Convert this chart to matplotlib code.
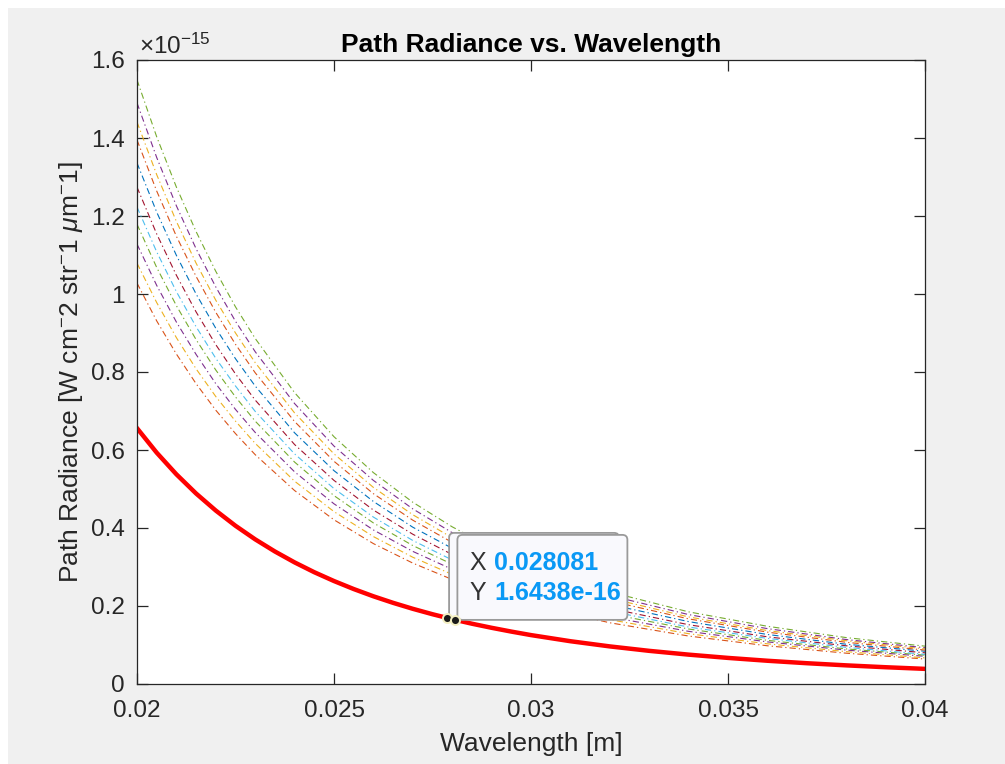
import matplotlib
matplotlib.use('Agg')
import matplotlib.pyplot as plt
import matplotlib.transforms as mtransforms
from matplotlib.patches import FancyBboxPatch, Rectangle
from matplotlib.ticker import FuncFormatter
import numpy as np

# values, radiance in units of 1e-15
red_wavelength = [0.0200, 0.0205, 0.0210, 0.0215, 0.0220, 0.0225, 0.0230, 0.0235, 0.0240, 0.0245,
                  0.0250, 0.0255, 0.0260, 0.0265, 0.0270, 0.0275, 0.0280, 0.0285, 0.0290, 0.0295,
                  0.0300, 0.0310, 0.0320, 0.0330, 0.0340, 0.0350, 0.0360, 0.0370, 0.0380, 0.0390, 0.0400]
red_radiance = [0.656, 0.5931, 0.5376, 0.4884, 0.4447, 0.4057, 0.3709, 0.3398, 0.3118, 0.2866,
                0.2640, 0.2435, 0.2249, 0.2081, 0.1928, 0.1789, 0.1662, 0.1546, 0.1441, 0.1344,
                0.1254, 0.1097, 0.0964, 0.0850, 0.0753, 0.0669, 0.0596, 0.0533, 0.0478, 0.0430, 0.0388]

wavelength = [0.0200, 0.0205, 0.0210, 0.0215, 0.0220, 0.0225, 0.0230, 0.0240, 0.0250,
              0.0260, 0.0270, 0.0280, 0.0290, 0.0300, 0.0320, 0.0340, 0.0360, 0.0380, 0.0400]

# dashed curves, lowest first
dashed_radiance = [
    [1.028, 0.931, 0.846, 0.770, 0.702, 0.642, 0.588, 0.496, 0.421, 0.360, 0.310, 0.268, 0.233, 0.203, 0.157, 0.123, 0.098, 0.079, 0.064],
    [1.079, 0.978, 0.888, 0.808, 0.737, 0.674, 0.617, 0.520, 0.442, 0.378, 0.325, 0.281, 0.244, 0.213, 0.165, 0.129, 0.103, 0.083, 0.067],
    [1.128, 1.022, 0.928, 0.845, 0.770, 0.704, 0.645, 0.544, 0.462, 0.395, 0.340, 0.294, 0.255, 0.223, 0.172, 0.135, 0.108, 0.087, 0.071],
    [1.179, 1.068, 0.970, 0.883, 0.805, 0.736, 0.674, 0.569, 0.483, 0.413, 0.355, 0.307, 0.267, 0.233, 0.180, 0.141, 0.112, 0.090, 0.074],
    [1.223, 1.108, 1.006, 0.916, 0.835, 0.764, 0.699, 0.590, 0.501, 0.428, 0.368, 0.318, 0.277, 0.242, 0.187, 0.146, 0.117, 0.094, 0.076],
    [1.274, 1.154, 1.048, 0.954, 0.870, 0.795, 0.728, 0.614, 0.522, 0.446, 0.384, 0.332, 0.288, 0.252, 0.194, 0.152, 0.121, 0.098, 0.080],
    [1.336, 1.210, 1.099, 1.000, 0.912, 0.834, 0.764, 0.644, 0.547, 0.468, 0.402, 0.348, 0.302, 0.264, 0.204, 0.160, 0.127, 0.102, 0.084],
    [1.395, 1.264, 1.148, 1.045, 0.953, 0.871, 0.798, 0.673, 0.571, 0.488, 0.420, 0.363, 0.316, 0.276, 0.213, 0.167, 0.133, 0.107, 0.087],
    [1.441, 1.306, 1.186, 1.079, 0.984, 0.900, 0.824, 0.695, 0.590, 0.504, 0.434, 0.375, 0.326, 0.285, 0.220, 0.172, 0.137, 0.111, 0.090],
    [1.490, 1.350, 1.226, 1.116, 1.018, 0.930, 0.852, 0.719, 0.610, 0.522, 0.449, 0.388, 0.337, 0.294, 0.227, 0.178, 0.142, 0.114, 0.093],
    [1.549, 1.403, 1.274, 1.160, 1.058, 0.967, 0.886, 0.747, 0.634, 0.542, 0.466, 0.403, 0.350, 0.306, 0.236, 0.185, 0.148, 0.119, 0.097],
]
dashed_colors = ['#D95319', '#EDB120', '#7E2F8E', '#77AC30', '#4DBEEE', '#A2142F',
                 '#0072BD', '#D95319', '#EDB120', '#7E2F8E', '#77AC30']

tip_x = [0.027870, 0.028081]
tip_y = [0.1695, 0.16438]
tip_text = ['0.028081', '1.6438e-16']

x_ticks = [0.02, 0.025, 0.03, 0.035, 0.04]
y_ticks = [0, 0.2, 0.4, 0.6, 0.8, 1.0, 1.2, 1.4, 1.6]

SCALE = 1e-15
FONT = ['Liberation Sans', 'DejaVu Sans']
plt.rcParams['font.family'] = FONT
plt.rcParams['mathtext.fontset'] = 'custom'
plt.rcParams['mathtext.rm'] = 'Liberation Sans'
plt.rcParams['mathtext.it'] = 'Liberation Sans:italic'
plt.rcParams['lines.scale_dashes'] = False
INK = '#262626'

fig = plt.figure(figsize=(10.05, 7.64), dpi=100, facecolor='white')
fig.add_artist(Rectangle((8 / 1005, 0), 1, (764 - 8) / 764, transform=fig.transFigure,
                         facecolor='#F0F0F0', edgecolor='none', zorder=-10))
ax = fig.add_axes([137 / 1005, 80 / 764, 788 / 1005, 624 / 764])
ax.set_facecolor('white')

wl = np.array(wavelength)
for vals, col in zip(dashed_radiance, dashed_colors):
    ax.plot(wl, np.array(vals) * SCALE, color=col, lw=0.8, dashes=(4.5, 2.2, 0.9, 2.2))
ax.plot(red_wavelength, np.array(red_radiance) * SCALE, color='#FF0000', lw=3.2,
        solid_joinstyle='round')

ax.set_xlim(0.02, 0.04)
ax.set_ylim(0, 1.6 * SCALE)
ax.set_xticks(x_ticks)
ax.set_yticks(np.array(y_ticks) * SCALE)
ax.xaxis.set_major_formatter(FuncFormatter(lambda v, _: f'{v:g}'))
ax.yaxis.set_major_formatter(FuncFormatter(lambda v, _: f'{v / SCALE:g}'))
ax.tick_params(direction='in', top=True, right=True, length=8, width=0.9,
               color=INK, labelcolor=INK, labelsize=17.5)
ax.tick_params(axis='x', pad=11.5)
ax.tick_params(axis='y', pad=9)
for s in ax.spines.values():
    s.set_color(INK)
    s.set_linewidth(0.9)

ax.text(0.003, 1.002, r'$\times$10$^{-15}$', transform=ax.transAxes, ha='left', va='bottom',
        fontsize=17.5, color=INK)
ax.set_title('Path Radiance vs. Wavelength', fontsize=19, fontweight='bold', color='black', pad=6)
ax.set_xlabel('Wavelength [m]', fontsize=19, color=INK, labelpad=7)
ax.set_ylabel(r'Path Radiance [W cm$^{-}$2 str$^{-}$1 $\mu$m$^{-}$1]', fontsize=19, color=INK, labelpad=4)


def px_at(x, y):
    # pixel offsets measured from a data point
    return mtransforms.IdentityTransform() + mtransforms.ScaledTranslation(x, y * SCALE, ax.transData)


for i, (tx, ty) in enumerate(zip(tip_x, tip_y)):
    t = px_at(tx, ty)
    box = FancyBboxPatch((2, 0), 170, 85, boxstyle='round,pad=0,rounding_size=5', transform=t,
                         facecolor='#F9F9FD', edgecolor='#9A9A9A', lw=1.3, zorder=5 + i, clip_on=False)
    ax.add_artist(box)
tf = px_at(tip_x[1], tip_y[1])
ax.text(14, 57, 'X', transform=tf, fontsize=18, color='#333333', va='center', zorder=8)
ax.text(39, 57, tip_text[0], transform=tf, fontsize=18, color='#0A99F5', fontweight='bold', va='center', zorder=8)
ax.text(14, 27, 'Y', transform=tf, fontsize=18, color='#333333', va='center', zorder=8)
ax.text(39, 27, tip_text[1], transform=tf, fontsize=18, color='#0A99F5', fontweight='bold', va='center', zorder=8)

ax.plot(tip_x, np.array(tip_y) * SCALE, 'o', ms=6.5, mfc='#1A1A1A', mec='#F4EFC2', mew=1.4,
        zorder=9, clip_on=False)

fig.savefig('out.png', dpi=100, facecolor=fig.get_facecolor())
